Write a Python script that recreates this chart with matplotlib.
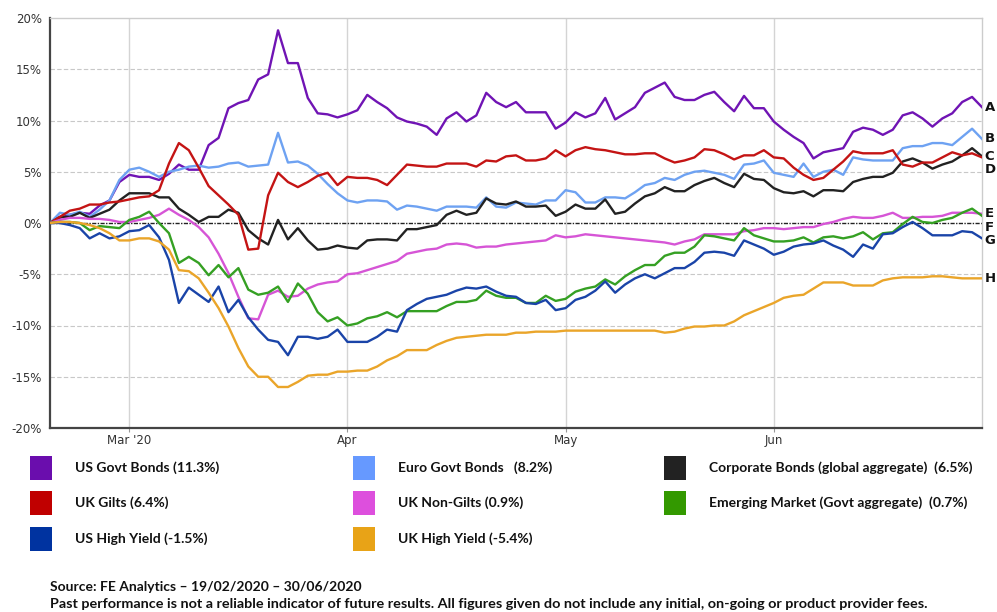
import matplotlib
matplotlib.use('Agg')
import numpy as np
import pandas as pd
import matplotlib.pyplot as plt
from matplotlib.patches import Rectangle

# business days 19/02/2020 - 30/06/2020, cumulative return in %
dates = pd.bdate_range('2020-02-19', '2020-06-30')

us_govt = [0.0, 0.5, 0.8, 1.0, 0.9, 1.7, 2.2, 4.0, 4.7, 4.5, 4.5, 4.2, 4.8, 5.7, 5.2, 5.2,
           7.6, 8.3, 11.2, 11.7, 12.0, 14.0, 14.5, 18.8, 15.6, 15.6, 12.2, 10.7, 10.6, 10.3,
           10.6, 11.0, 12.5, 11.8, 11.2, 10.3, 9.9, 9.7, 9.4, 8.6, 10.2, 10.8, 9.9, 10.5, 12.7,
           11.8, 11.3, 11.8, 10.8, 10.8, 10.8, 9.2, 9.8, 10.8, 10.3, 10.7, 12.2, 10.1, 10.7,
           11.3, 12.7, 13.2, 13.7, 12.3, 12.0, 12.0, 12.5, 12.8, 11.8, 10.9, 12.4, 11.2, 11.2,
           9.9, 9.1, 8.4, 7.8, 6.3, 6.9, 7.1, 7.3, 8.9, 9.3, 9.1, 8.6, 9.1, 10.5, 10.8, 10.2,
           9.4, 10.2, 10.7, 11.8, 12.3, 11.3]
euro_govt = [0.0, 1.0, 0.8, 1.1, 0.6, 1.3, 2.2, 4.2, 5.2, 5.4, 5.0, 4.5, 5.0, 5.2, 5.5, 5.6,
             5.4, 5.5, 5.8, 5.9, 5.5, 5.6, 5.7, 8.8, 5.9, 6.0, 5.6, 4.8, 3.8, 2.9,
             2.2, 2.0, 2.2, 2.2, 2.1, 1.3, 1.7, 1.6, 1.4, 1.2, 1.6, 1.6, 1.6, 1.5, 2.5,
             1.6, 1.5, 2.0, 1.9, 1.8, 2.2, 2.2, 3.2, 3.0, 2.0, 2.0, 2.5, 2.5, 2.4,
             3.0, 3.7, 3.9, 4.4, 4.2, 4.7, 5.0, 5.1, 4.9, 4.7, 4.3, 5.7, 5.8, 6.1,
             4.9, 4.7, 4.5, 5.8, 4.5, 5.0, 5.2, 4.7, 6.4, 6.2, 6.1, 6.1, 6.1, 7.3, 7.5, 7.5,
             7.8, 7.8, 7.6, 8.4, 9.2, 8.2]
corporate = [0.0, 0.6, 0.6, 1.0, 0.5, 0.9, 1.3, 2.2, 2.9, 2.9, 2.9, 2.5, 2.5, 1.4, 0.8, 0.1,
             0.6, 0.6, 1.3, 1.0, -0.7, -1.5, -2.1, 0.3, -1.6, -0.5, -1.7, -2.6, -2.5, -2.2,
             -2.4, -2.5, -1.7, -1.6, -1.6, -1.7, -0.6, -0.6, -0.4, -0.2, 0.8, 1.2, 0.8, 1.0, 2.4,
             1.9, 1.8, 2.1, 1.6, 1.6, 1.7, 0.7, 1.1, 1.8, 1.4, 1.4, 2.3, 0.9, 1.1,
             1.9, 2.6, 2.9, 3.5, 3.1, 3.1, 3.7, 4.1, 4.4, 3.9, 3.5, 4.8, 4.3, 4.2,
             3.4, 3.0, 2.9, 3.1, 2.6, 3.2, 3.2, 3.1, 4.0, 4.3, 4.5, 4.5, 4.9, 6.0, 6.3, 5.9,
             5.3, 5.7, 6.0, 6.6, 7.3, 6.5]
uk_gilts = [0.0, 0.6, 1.2, 1.4, 1.8, 1.8, 2.0, 2.1, 2.3, 2.5, 2.6, 3.2, 5.8, 7.8, 7.1, 5.4,
            3.6, 2.7, 1.8, 0.8, -2.6, -2.5, 2.7, 4.9, 4.0, 3.5, 4.0, 4.6, 4.9, 3.7,
            4.5, 4.4, 4.4, 4.2, 3.7, 4.7, 5.7, 5.6, 5.5, 5.5, 5.8, 5.8, 5.8, 5.5, 6.1,
            6.0, 6.5, 6.6, 6.1, 6.1, 6.3, 7.1, 6.5, 7.1, 7.4, 7.2, 7.1, 6.9, 6.7,
            6.7, 6.8, 6.8, 6.3, 5.9, 6.1, 6.4, 7.2, 7.1, 6.7, 6.2, 6.6, 6.6, 7.1,
            6.4, 6.3, 5.4, 4.7, 4.2, 4.4, 5.2, 6.0, 7.0, 6.8, 6.8, 6.8, 7.1, 5.7, 5.5, 5.9,
            5.9, 6.4, 6.9, 6.6, 6.8, 6.4]
uk_non_gilts = [0.0, 0.3, 0.5, 0.5, 0.4, 0.4, 0.3, 0.1, 0.1, 0.3, 0.5, 0.8, 1.4, 0.8, 0.3, -0.4,
                -1.4, -3.0, -4.9, -7.2, -9.3, -9.4, -7.0, -6.6, -7.2, -7.1, -6.4, -6.0, -5.8, -5.7,
                -5.0, -4.9, -4.6, -4.3, -4.0, -3.7, -3.0, -2.8, -2.6, -2.5, -2.1, -2.0, -2.1, -2.4, -2.3,
                -2.3, -2.1, -2.0, -1.9, -1.8, -1.7, -1.2, -1.4, -1.3, -1.1, -1.2, -1.3, -1.4, -1.5,
                -1.6, -1.7, -1.8, -1.9, -2.1, -1.8, -1.6, -1.1, -1.1, -1.1, -1.1, -0.8, -0.7, -0.5,
                -0.5, -0.6, -0.5, -0.4, -0.4, -0.1, 0.1, 0.4, 0.6, 0.5, 0.5, 0.7, 1.0, 0.5, 0.5, 0.6,
                0.6, 0.7, 1.0, 1.0, 1.0, 0.9]
emerging = [0.0, 0.1, 0.1, 0.0, -0.7, -0.3, -0.4, -0.5, 0.3, 0.6, 1.1, 0.0, -1.0, -3.9, -3.3, -3.9,
            -5.1, -4.1, -5.3, -4.4, -6.5, -7.0, -6.8, -6.2, -7.7, -5.9, -6.9, -8.7, -9.6, -9.2,
            -10.0, -9.8, -9.3, -9.1, -8.7, -9.2, -8.6, -8.6, -8.6, -8.6, -8.1, -7.7, -7.7, -7.5, -6.6,
            -7.1, -7.3, -7.3, -7.8, -7.8, -7.1, -7.6, -7.4, -6.7, -6.4, -6.2, -5.5, -6.0, -5.2,
            -4.6, -4.1, -4.1, -3.2, -2.9, -2.9, -2.3, -1.2, -1.3, -1.5, -1.7, -0.5, -1.2, -1.5,
            -1.8, -1.8, -1.7, -1.4, -1.9, -1.4, -1.3, -1.5, -1.3, -0.9, -1.6, -1.0, -0.9, -0.1, 0.6, 0.1,
            0.0, 0.3, 0.5, 1.0, 1.4, 0.7]
us_high_yield = [0.0, 0.0, -0.2, -0.5, -1.5, -1.0, -1.5, -1.3, -0.8, -0.7, -0.2, -1.4, -3.6, -7.8, -6.3, -7.0,
                 -7.7, -6.2, -8.7, -7.5, -9.2, -10.4, -11.4, -11.6, -12.9, -11.1, -11.1, -11.3, -11.1, -10.4,
                 -11.6, -11.6, -11.6, -11.1, -10.4, -10.6, -8.5, -7.9, -7.4, -7.2, -7.0, -6.6, -6.3, -6.4, -6.2,
                 -6.7, -7.1, -7.2, -7.8, -7.9, -7.5, -8.5, -8.3, -7.5, -7.2, -6.6, -5.7, -6.8, -6.0,
                 -5.4, -5.0, -5.4, -4.9, -4.4, -4.4, -3.8, -2.9, -2.8, -2.9, -3.2, -1.7, -2.1, -2.5,
                 -3.1, -2.8, -2.3, -2.1, -2.0, -1.7, -2.2, -2.6, -3.3, -2.1, -2.5, -1.1, -1.0, -0.4, 0.1, -0.5,
                 -1.2, -1.2, -1.2, -0.8, -0.9, -1.5]
uk_high_yield = [0.0, 0.1, 0.1, 0.0, -0.2, -0.5, -1.0, -1.7, -1.7, -1.5, -1.5, -1.8, -2.6, -4.6, -4.7, -5.4,
                 -6.8, -8.3, -10.1, -12.2, -14.0, -15.0, -15.0, -16.0, -16.0, -15.5, -14.9, -14.8, -14.8, -14.5,
                 -14.5, -14.4, -14.4, -14.0, -13.4, -13.0, -12.4, -12.4, -12.4, -11.9, -11.5, -11.2, -11.1, -11.0, -10.9,
                 -10.9, -10.9, -10.7, -10.7, -10.6, -10.6, -10.6, -10.5, -10.5, -10.5, -10.5, -10.5, -10.5, -10.5,
                 -10.5, -10.5, -10.5, -10.7, -10.6, -10.3, -10.1, -10.1, -10.0, -10.0, -9.6, -9.0, -8.6, -8.2,
                 -7.8, -7.3, -7.1, -7.0, -6.4, -5.8, -5.8, -5.8, -6.1, -6.1, -6.1, -5.6, -5.4, -5.3, -5.3, -5.3,
                 -5.2, -5.2, -5.3, -5.4, -5.4, -5.4]

names = ['US Govt Bonds (11.3%)', 'Euro Govt Bonds   (8.2%)', 'Corporate Bonds (global aggregate)  (6.5%)',
         'UK Gilts (6.4%)', 'UK Non-Gilts (0.9%)', 'Emerging Market (Govt aggregate)  (0.7%)',
         'US High Yield (-1.5%)', 'UK High Yield (-5.4%)']
series = [us_govt, euro_govt, corporate, uk_gilts, uk_non_gilts, emerging, us_high_yield, uk_high_yield]
line_colors = ['#7014B4', '#6EA2F2', '#222222', '#C41414', '#D655D6', '#35A023', '#1A44A8', '#EAA52A']
box_colors = ['#6A0DAD', '#6699FF', '#222222', '#C00000', '#DD4FDD', '#339900', '#0033A0', '#E8A317']

W, H = 997, 612
fig = plt.figure(figsize=(W / 100, H / 100), dpi=100)
ax = fig.add_axes([50 / W, 1 - 428 / H, 932 / W, 410 / H])

x = np.arange(len(dates))
for vals, c in zip(series, line_colors):
    ax.plot(x, vals, color=c, lw=1.7, zorder=3)

ax.set_xlim(0, len(dates) - 1)
ax.set_ylim(-20, 20)

# grid
for v in [-15, -10, -5, 5, 10, 15]:
    ax.axhline(v, color='#c8c8c8', lw=0.8, ls=(0, (4, 2)), zorder=1)
ax.axhline(0, color='#222222', lw=1.0, ls=(0, (3, 1, 1, 1)), zorder=2)

month_idx = [i for i in range(1, len(dates)) if dates[i].month != dates[i - 1].month]
ax.set_xticks(month_idx)
ax.set_xticklabels(["Mar '20", 'Apr', 'May', 'Jun'])
ax.xaxis.grid(True, color='#d4d4d4', lw=1.0, zorder=1)

yt = list(range(-20, 25, 5))
ax.set_yticks(yt)
ax.set_yticklabels(['%d%%' % v for v in yt])
ax.tick_params(axis='y', length=0, pad=6, labelsize=8.5, labelcolor='#333333')
ax.tick_params(axis='x', length=3, color='#999999', pad=1, labelsize=8.5, labelcolor='#333333')

for s in ['left', 'bottom']:
    ax.spines[s].set_color('#444444')
    ax.spines[s].set_linewidth(1.6)
for s in ['top', 'right']:
    ax.spines[s].set_color('#cccccc')
    ax.spines[s].set_linewidth(1.0)

# end letters, spread so they don't overlap
finals = [v[-1] for v in series]
order = np.argsort(finals)[::-1]
prev = None
for k, i in enumerate(order):
    y = finals[i] if prev is None else min(finals[i], prev - 1.3)
    prev = y
    ax.annotate('ABCDEFGH'[k], xy=(1.003, y), xycoords=('axes fraction', 'data'),
                ha='left', va='center', fontsize=9.5, fontweight='bold', color='#111111',
                annotation_clip=False)

# legend boxes
leg_font = ['Lato', 'DejaVu Sans']
col_x = [30, 353, 664]
row_y = [468, 503, 539]
for n, (name, c) in enumerate(zip(names, box_colors)):
    r, col = divmod(n, 3)
    bx, by = col_x[col], row_y[r]
    fig.add_artist(Rectangle((bx / W, 1 - (by + 12) / H), 22 / W, 24 / H,
                             transform=fig.transFigure, facecolor=c, edgecolor='none'))
    fig.text((bx + 45) / W, 1 - by / H, name, ha='left', va='center', fontsize=10,
             fontweight='bold', family=leg_font, color='#111111')

fig.text(50 / W, 1 - 587 / H, 'Source: FE Analytics \u2013 19/02/2020 \u2013 30/06/2020',
         ha='left', va='center', fontsize=10, fontweight='bold', family=leg_font, color='#111111')
fig.text(50 / W, 1 - 604 / H,
         'Past performance is not a reliable indicator of future results. All figures given do not '
         'include any initial, on-going or product provider fees.',
         ha='left', va='center', fontsize=10.4, fontweight='bold', family=leg_font, color='#111111')

fig.savefig('out.png', dpi=100)
